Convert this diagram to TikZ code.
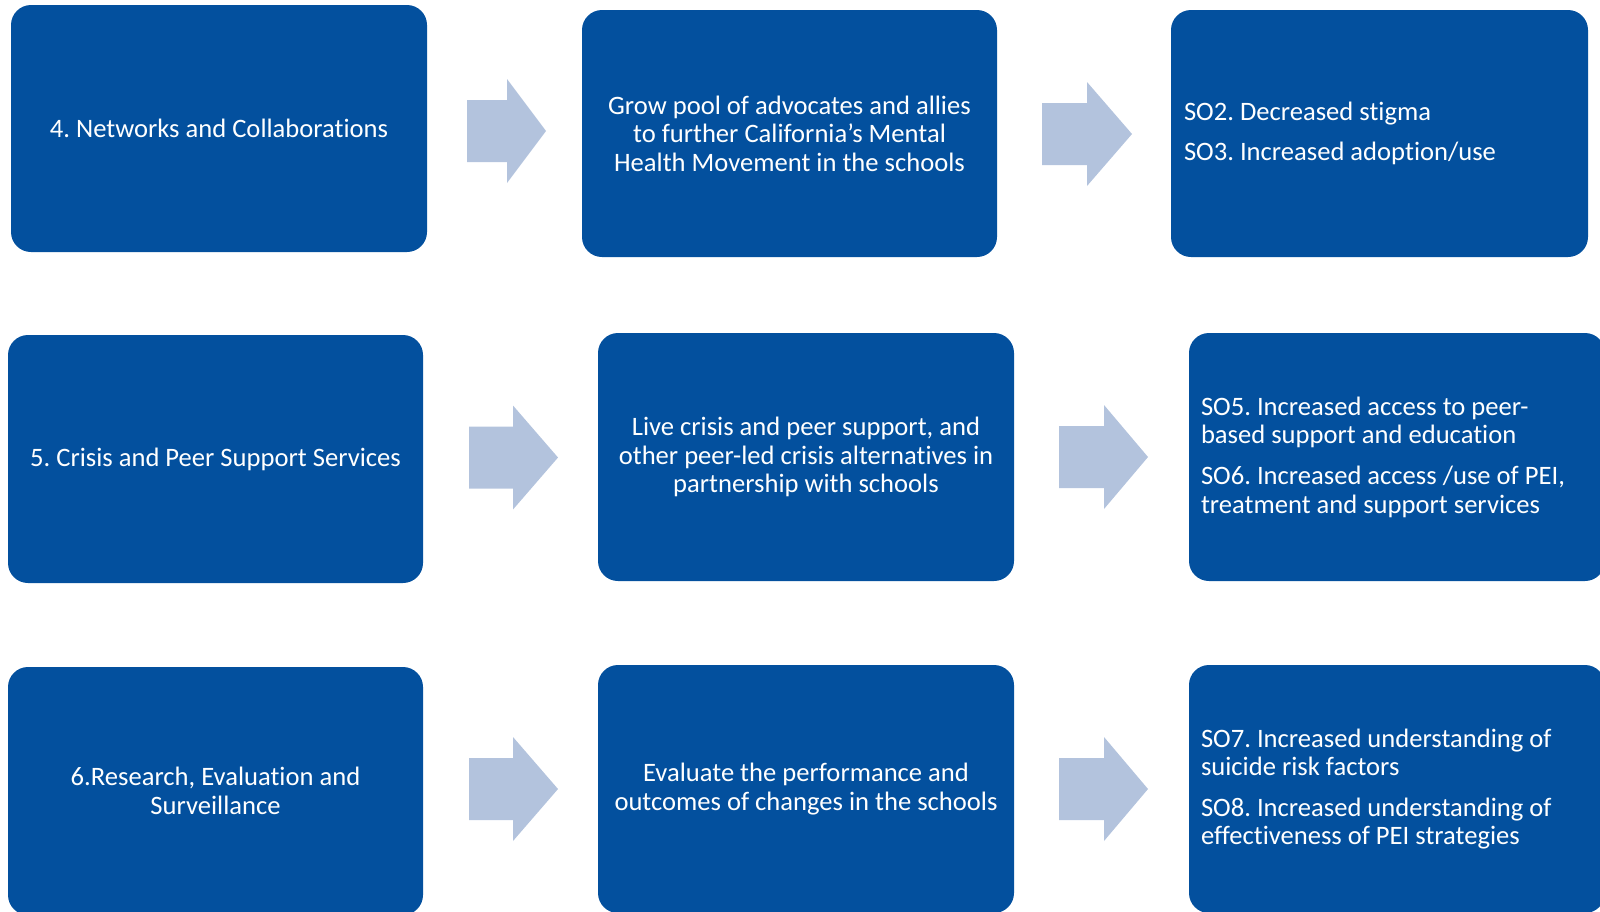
\documentclass[tikz,border=0pt]{standalone}
\usepackage{fontspec}
\setmainfont{Carlito}[Ligatures={TeX,NoCommon}]
\usetikzlibrary{calc}
\definecolor{boxblue}{RGB}{3,80,158}
\definecolor{arrowfill}{RGB}{179,195,221}
\tikzset{
  txt/.style={text=white, inner sep=0pt, font=\fontsize{26.6}{28.6}\selectfont\frenchspacing},
  box/.style={txt, fill=boxblue, rounded corners=20pt, anchor=center},
  boxc/.style={box, align=center},
  sotext/.style={txt, align=left, anchor=west},
  blockarrow/.style={fill=arrowfill}
}
\newcommand{\barrow}[5]{% x0, xbase, xtip, ycenter, name
  \fill[blockarrow] (#1,#4-31) -- (#2,#4-31) -- (#2,#4-52) -- (#3,#4) -- (#2,#4+52) -- (#2,#4+31) -- (#1,#4+31) -- cycle;
  \coordinate (#5) at (#3,#4);
}
\begin{document}
\begin{tikzpicture}[x=1pt,y=-1pt]
\useasboundingbox (0,0) rectangle (1600,911);
% row 1
\node[boxc, minimum width=416pt, minimum height=247pt] (a1) at (219,128.5) {4. Networks and Collaborations};
\node[boxc, minimum width=415pt, minimum height=247pt] (b1) at (789.5,133.5) {Grow pool of advocates and allies\\to further California's Mental\\Health Movement in the schools};
\node[box, minimum width=417pt, minimum height=247pt] (c1) at (1379.5,133.5) {};
\node[sotext] (c1t) at ($(c1.west)+(13,0)$) {SO2. Decreased stigma\\[12pt]SO3. Increased adoption/use};
% row 2
\node[boxc, minimum width=415pt, minimum height=248pt] (a2) at (215.5,459) {5. Crisis and Peer Support Services};
\node[boxc, minimum width=416pt, minimum height=248pt] (b2) at (806,457) {Live crisis and peer support, and\\other peer-led crisis alternatives in\\partnership with schools};
\node[box, minimum width=416pt, minimum height=248pt] (c2) at (1397,457) {};
\node[sotext] (c2t) at ($(c2.west)+(12,0)$) {SO5. Increased access to peer-\\based support and education\\[12pt]SO6. Increased access /use of PEI,\\treatment and support services};
% row 3
\node[boxc, minimum width=415pt, minimum height=248pt] (a3) at (215.5,791) {6.Research, Evaluation and\\Surveillance};
\node[boxc, minimum width=416pt, minimum height=248pt] (b3) at (806,789) {Evaluate the performance and\\outcomes of changes in the schools};
\node[box, minimum width=416pt, minimum height=248pt] (c3) at (1397,789) {};
\node[sotext] (c3t) at ($(c3.west)+(12,0)$) {SO7. Increased understanding of\\suicide risk factors\\[12pt]SO8. Increased understanding of\\effectiveness of PEI strategies};
% block arrows
\barrow{467}{507}{546}{131}{ar1}
\barrow{1042}{1087}{1132}{134}{ar2}
\barrow{469}{513}{558}{457.5}{ar3}
\barrow{1059}{1104}{1148}{457}{ar4}
\barrow{469}{513}{558}{789}{ar5}
\barrow{1059}{1104}{1148}{789}{ar6}
\end{tikzpicture}
\end{document}
